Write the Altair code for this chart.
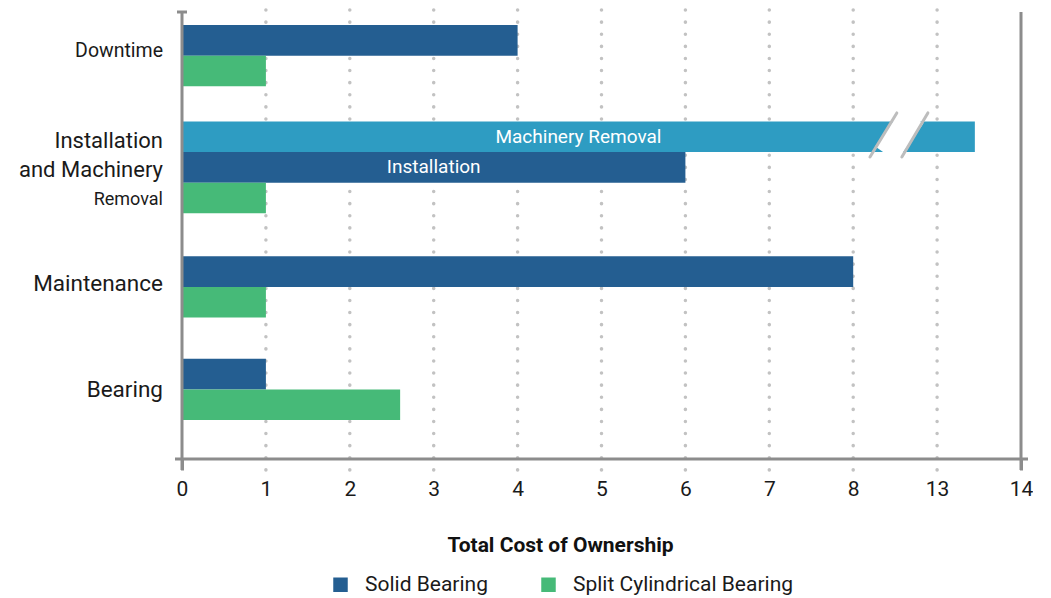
import altair as alt
import pandas as pd

# ---------------- data ----------------
categories = ["Downtime", "Installation and Machinery Removal", "Maintenance", "Bearing"]
series_names = ["Solid Bearing", "Split Cylindrical Bearing", "Machinery Removal"]
solid_values = [4, 6, 8, 1]
split_values = [1, 1, 1, 2.6]
removal_value = 13.45          # Machinery Removal (Installation group only)
tick_labels = ["0", "1", "2", "3", "4", "5", "6", "7", "8", "13", "14"]
colors = ["#245E91", "#46BA78", "#2E9CC2"]
category_lines = [["Downtime"], ["Installation", "and Machinery", "Removal"], ["Maintenance"], ["Bearing"]]
category_sizes = [[19.5], [22, 22, 18], [22.5], [22.5]]
label_shift = [-0.15, 0.1, -0.1, 0.03]
group_gaps = [1.15, 1.4, 1.35]
break_value = 8.5              # position of axis break (between 8 and 13)

FONT = "Roboto"
W, H = 839, 447
GRAY = "#8c8c8c"


def axis_pos(v):
    """broken axis: 0..8 linear, then 13..14 placed after 8"""
    return v if v <= 8 else 9 + (v - 13)


# ---------------- build tables ----------------
groups = [
    [("Solid Bearing", solid_values[0], "")],
    [("Machinery Removal", removal_value, "Machinery Removal"),
     ("Solid Bearing", solid_values[1], "Installation")],
    [("Solid Bearing", solid_values[2], "")],
    [("Solid Bearing", solid_values[3], "")],
]
for i in range(4):
    groups[i].append(("Split Cylindrical Bearing", split_values[i], ""))

rows, lab_rows = [], []
cursor = 0.0
for gi, (cat, bars) in enumerate(zip(categories, groups)):
    start = cursor
    for s, v, lab in bars:
        p = axis_pos(v)
        rows.append({"category": cat, "series": s, "value": v, "x0": 0, "x1": p,
                     "y0": cursor, "y1": cursor + 1, "ym": cursor + 0.5,
                     "xm": p / 2, "label": lab})
        cursor += 1
    center = (start + cursor) / 2
    lines = category_lines[gi]
    n = len(lines)
    for li, (t, fs) in enumerate(zip(lines, category_sizes[gi])):
        lab_rows.append({"text": t, "fs": fs,
                         "y": center + (li - (n - 1) / 2) * 0.96 + label_shift[gi]})
    if gi < len(group_gaps):
        cursor += group_gaps[gi]

bars_df = pd.DataFrame(rows)
labels_df = pd.DataFrame(lab_rows)
inner_df = bars_df[bars_df["label"] != ""]
grid_df = pd.DataFrame({"g": list(range(1, 10))})

# break decoration on Machinery Removal bar
mr = bars_df[bars_df["series"] == "Machinery Removal"].iloc[0]
yt, yb = mr["y0"] - 0.28, mr["y1"] + 0.16
break_df = pd.DataFrame({
    "xa": [break_value - 0.30, break_value + 0.08],
    "xb": [break_value + 0.02, break_value + 0.39],
    "ya": [yb, yb], "yb": [yt, yt]})
white_df = pd.DataFrame({"xa": [break_value - 0.11], "xb": [break_value + 0.21],
                         "ya": [yb - 0.1], "yb": [yt + 0.1]})

ymin = -0.425
ymax = cursor + 1.27
xs = alt.Scale(domain=[0, 10], nice=False, zero=False)
ys = alt.Scale(domain=[ymin, ymax], nice=False, zero=False, reverse=True)

label_expr = "[" + ",".join("'%s'" % t for t in tick_labels) + "][datum.value]"

x_axis = alt.Axis(
    values=list(range(len(tick_labels))), labelExpr=label_expr, domain=False, grid=False,
    tickSize=11, tickWidth=3, tickColor=GRAY,
    tickOpacity={"condition": {"test": "datum.value == 0 || datum.value == 10", "value": 1}, "value": 0},
    labelFont=FONT, labelFontSize=21, labelColor="#1a1a1a", labelPadding=8,
    labelFlush=False, labelOverlap=False,
    title="Total Cost of Ownership", titleFont=FONT, titleFontSize=21, titleFontWeight="bold",
    titleColor="#111111", titleX=378, titleY=86, titleAlign="center", titleBaseline="middle",
)


def X(field):
    return alt.X(field, scale=xs, axis=x_axis)


def Y(field):
    return alt.Y(field, scale=ys, axis=None)


grid = alt.Chart(grid_df).mark_rule(
    color="#c2c2c2", strokeWidth=3.5, strokeDash=[0.1, 12], strokeCap="round"
).encode(x=X("g:Q"), y=alt.value(-2), y2=alt.value(H + 12))

bars = alt.Chart(bars_df).mark_rect().encode(
    x=X("x0:Q"),
    x2="x1:Q",
    y=Y("y0:Q"),
    y2="y1:Q",
    color=alt.Color("series:N",
                    scale=alt.Scale(domain=series_names, range=colors),
                    legend=alt.Legend(values=series_names[:2], title=None, orient="none",
                                      direction="horizontal", legendX=148, legendY=562,
                                      symbolType="square", symbolSize=210, symbolStrokeWidth=0,
                                      labelFont=FONT, labelFontSize=21, labelColor="#1a1a1a",
                                      labelLimit=400, columnPadding=50, labelOffset=14)),
)

white = alt.Chart(white_df).mark_rule(color="white", strokeWidth=26, strokeCap="butt").encode(
    x=X("xa:Q"), x2="xb:Q", y=Y("ya:Q"), y2="yb:Q")

brk = alt.Chart(break_df).mark_rule(color="#bdbdbd", strokeWidth=3, strokeCap="round").encode(
    x=X("xa:Q"), x2="xb:Q", y=Y("ya:Q"), y2="yb:Q")

inner = alt.Chart(inner_df).mark_text(color="white", font=FONT, fontSize=19, baseline="middle").encode(
    x=X("xm:Q"), y=Y("ym:Q"), text="label:N")

cat_text = alt.Chart(labels_df).mark_text(
    align="right", baseline="middle", font=FONT, color="#1a1a1a"
).encode(x=alt.value(-19), y=Y("y:Q"), text="text:N",
         size=alt.Size("fs:Q", scale=None, legend=None))

frame_v = alt.Chart(pd.DataFrame({"f": [0, 10]})).mark_rule(color=GRAY, strokeWidth=3).encode(
    x=X("f:Q"), y=alt.value(0), y2=alt.value(H + 11))
frame_h = alt.Chart(pd.DataFrame({"f": [0]})).mark_rule(color=GRAY, strokeWidth=3).encode(
    x=alt.value(-7), x2=alt.value(W + 7), y=alt.value(H))
top_tick = alt.Chart(pd.DataFrame({"f": [0]})).mark_rule(color=GRAY, strokeWidth=3).encode(
    x=alt.value(-5), x2=alt.value(5), y=alt.value(0))

chart = alt.layer(grid, bars, white, brk, inner, cat_text, frame_v, frame_h, top_tick).properties(
    width=W, height=H,
    autosize=alt.AutoSizeParams(type="none"),
    padding={"left": 174, "top": 4, "right": 12, "bottom": 138},
).configure(background="white", view=alt.ViewConfig(stroke=None))

chart.save("out.html", embed_options={"renderer": "svg", "actions": False})
